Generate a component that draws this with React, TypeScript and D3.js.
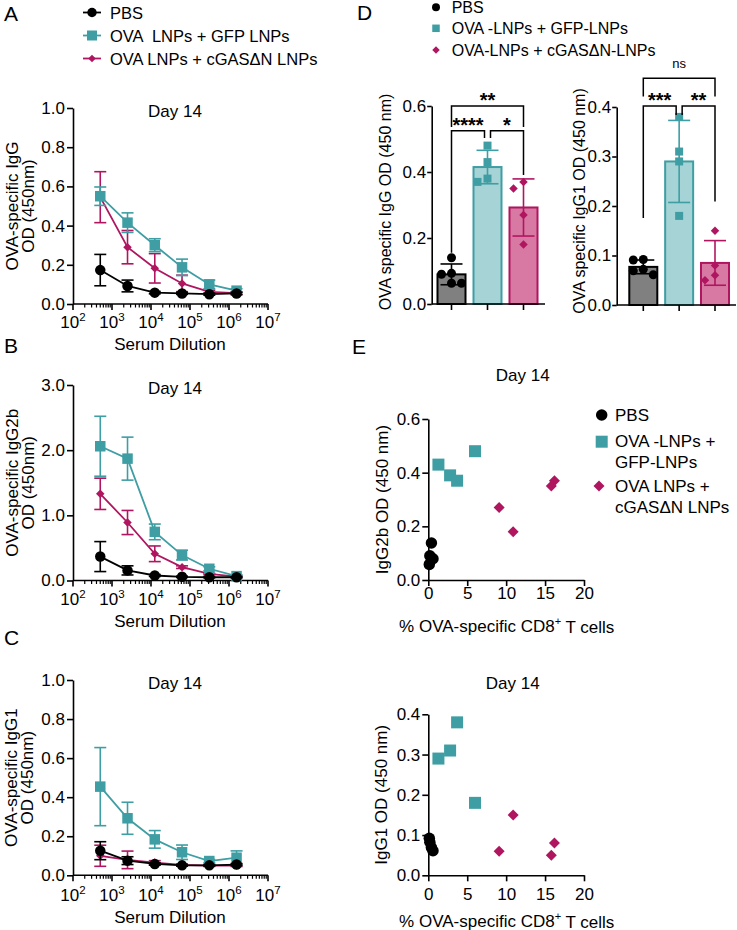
import React, { useEffect, useRef } from 'react'
import * as d3 from 'd3'

const FONT = '"Liberation Sans", Arial, Helvetica, sans-serif'
const TEAL = '#3e9ea3'
const MAGENTA = '#b01660'
const PBS_FILL = '#808080'
const GFP_FILL = '#a6d3d5'
const CGAS_FILL = '#d879a3'

// ---- panels A-C: serum dilution curves (mean, SD) ----
const dilutions = [500, 2500, 12500, 62500, 312500, 1562500]
const curveGroups = ['PBS', 'OVA  LNPs + GFP LNPs', 'OVA LNPs + cGASΔN LNPs']

const iggPBS = [0.173, 0.092, 0.058, 0.054, 0.05, 0.054]
const iggPBSsd = [0.08, 0.03, 0.006, 0.005, 0.005, 0.006]
const iggGFP = [0.55, 0.415, 0.3, 0.187, 0.1, 0.068]
const iggGFPsd = [0.047, 0.05, 0.033, 0.042, 0.022, 0.01]
const iggCGAS = [0.545, 0.29, 0.182, 0.105, 0.062, 0.055]
const iggCGASsd = [0.13, 0.085, 0.075, 0.042, 0.008, 0.006]

const igg2bPBS = [0.367, 0.155, 0.077, 0.057, 0.05, 0.05]
const igg2bPBSsd = [0.23, 0.07, 0.015, 0.01, 0.01, 0.01]
const igg2bGFP = [2.06, 1.87, 0.746, 0.39, 0.18, 0.067]
const igg2bGFPsd = [0.46, 0.33, 0.12, 0.075, 0.03, 0.02]
const igg2bCGAS = [1.33, 0.89, 0.41, 0.205, 0.1, 0.06]
const igg2bCGASsd = [0.24, 0.185, 0.12, 0.02, 0.01, 0.01]

const igg1PBS = [0.126, 0.075, 0.058, 0.051, 0.051, 0.055]
const igg1PBSsd = [0.046, 0.02, 0.006, 0.004, 0.004, 0.005]
const igg1GFP = [0.454, 0.292, 0.184, 0.118, 0.073, 0.09]
const igg1GFPsd = [0.2, 0.082, 0.045, 0.037, 0.008, 0.035]
const igg1CGAS = [0.1, 0.079, 0.065, 0.053, 0.05, 0.05]
const igg1CGASsd = [0.054, 0.045, 0.01, 0.005, 0.005, 0.005]

// ---- panel D: individual mice ----
const barGroups = ['PBS', 'OVA -LNPs + GFP-LNPs', 'OVA-LNPs + cGASΔN-LNPs']
const dIggPBS = [0.14, 0.093, 0.09, 0.063, 0.063]
const dIggGFP = [0.48, 0.43, 0.38, 0.37]
const dIggCGAS = [0.35, 0.37, 0.27, 0.18]
const dIgg1PBS = [0.092, 0.091, 0.072, 0.069, 0.061]
const dIgg1GFP = [0.38, 0.31, 0.29, 0.18]
const dIgg1CGAS = [0.15, 0.08, 0.05, 0.06]

const dIggBrackets = [
  { a: 0, b: 2, label: '**', top: 0.6, legA: 0.536, legB: 0.536 },
  { a: 0, b: 1, label: '****', top: 0.525, legA: 0.155, legB: 0.503 },
  { a: 1, b: 2, label: '*', top: 0.525, legA: 0.503, legB: 0.391 },
]
const dIgg1Brackets = [
  { a: 0, b: 2, label: 'ns', top: 0.458, legA: 0.421, legB: 0.421 },
  { a: 0, b: 1, label: '***', top: 0.402, legA: 0.176, legB: 0.384 },
  { a: 1, b: 2, label: '**', top: 0.402, legA: 0.384, legB: 0.209 },
]

// ---- panel E: OD vs % OVA-specific CD8+ T cells ----
const cd8PBS = [0.13, 0.2, 0.4, 0.6]
const cd8GFP = [1.3, 2.8, 3.7, 6.0]
const cd8CGAS = [9.1, 10.9, 15.8, 16.2]
const eIgg2bPBS = [0.058, 0.09, 0.138, 0.079]
const eIgg2bGFP = [0.43, 0.39, 0.37, 0.48]
const eIgg2bCGAS = [0.27, 0.18, 0.35, 0.37]
const eIgg1PBS = [0.092, 0.082, 0.069, 0.061]
const eIgg1GFP = [0.29, 0.31, 0.38, 0.18]
const eIgg1CGAS = [0.06, 0.15, 0.05, 0.08]
const scatterLegend = [['PBS'], ['OVA -LNPs +', 'GFP-LNPs'], ['OVA LNPs +', 'cGASΔN LNPs']]

const colors = ['#000', TEAL, MAGENTA]
const shapes = ['circle', 'square', 'diamond']

function marker(g, shape, x, y, size, color) {
  if (shape === 'circle') {
    g.append('circle').attr('cx', x).attr('cy', y).attr('r', size / 2).attr('fill', color)
  } else if (shape === 'square') {
    g.append('rect').attr('x', x - size / 2).attr('y', y - size / 2)
      .attr('width', size).attr('height', size).attr('fill', color)
  } else {
    const h = size / 2
    g.append('path').attr('d', `M${x},${y - h}L${x + h},${y}L${x},${y + h}L${x - h},${y}Z`).attr('fill', color)
  }
}

function text(g, x, y, str, size, anchor = 'middle', rotate = false) {
  const t = g.append('text')
    .attr('x', x).attr('y', y)
    .attr('font-size', size)
    .attr('font-family', FONT)
    .attr('text-anchor', anchor)
    .attr('dominant-baseline', 'central')
    .style('white-space', 'pre')
    .text(str)
  if (rotate) t.attr('transform', `rotate(-90,${x},${y})`)
  return t
}

function yAxis(g, y, x, ticks, fmt, size = 6, pad = 2) {
  const ax = g.append('g')
    .attr('transform', `translate(${x},0)`)
    .call(d3.axisLeft(y).tickValues(ticks).tickFormat(fmt).tickSize(size).tickPadding(pad).tickSizeOuter(0))
  ax.attr('font-size', 17).attr('font-family', FONT)
  ax.selectAll('path, line').attr('stroke', '#000').attr('stroke-width', 1.6)
  ax.selectAll('text').attr('fill', '#000')
}

function logXAxis(g, x, y0, labelY) {
  const [d0, d1] = x.domain()
  g.append('line').attr('x1', x(d0)).attr('x2', x(d1)).attr('y1', y0).attr('y2', y0)
    .attr('stroke', '#000').attr('stroke-width', 1.6)
  x.ticks().forEach(t => {
    const e = Math.round(Math.log10(t))
    const major = Math.abs(t - Math.pow(10, e)) < 1e-6 * t
    g.append('line').attr('x1', x(t)).attr('x2', x(t)).attr('y1', y0).attr('y2', y0 + (major ? 6 : 3.5))
      .attr('stroke', '#000').attr('stroke-width', major ? 1.6 : 1.2)
    if (major) {
      const lab = g.append('text').attr('x', x(t)).attr('y', labelY + 6)
        .attr('font-size', 17).attr('font-family', FONT).attr('text-anchor', 'middle')
      lab.append('tspan').text('10')
      lab.append('tspan').attr('dy', -7).attr('font-size', 11.5).text(String(e))
    }
  })
}

function dosePanel(svg, cfg) {
  const g = svg.append('g')
  const x = d3.scaleLog().domain([1e2, 1e7]).range([73, 268])
  const y = d3.scaleLinear().domain([0, cfg.max]).range([cfg.bottom, cfg.top])
  yAxis(g, y, 73, cfg.ticks, d3.format('.1f'))
  logXAxis(g, x, cfg.bottom, cfg.tickLabelY)
  text(g, 170, cfg.tickLabelY + 22, 'Serum Dilution', 17)
  text(g, 175, cfg.top + 3.5, 'Day 14', 17)
  text(g, 12, (cfg.top + cfg.bottom) / 2, cfg.title[0], 17, 'middle', true)
  text(g, 28, (cfg.top + cfg.bottom) / 2, cfg.title[1], 17, 'middle', true)
  text(g, 4, cfg.letterY, cfg.letter, 21, 'start')

  const line = d3.line().x((d, i) => x(dilutions[i])).y(d => y(d))
  // draw cGAS, GFP, then PBS on top
  ;[2, 1, 0].forEach(k => {
    const s = cfg.series[k]
    const sg = g.append('g')
    sg.append('path').attr('d', line(s.values)).attr('fill', 'none')
      .attr('stroke', colors[k]).attr('stroke-width', 1.8)
    s.values.forEach((v, i) => {
      const cx = x(dilutions[i])
      const y1 = y(v + s.sd[i]), y2 = y(Math.max(0, v - s.sd[i]))
      sg.append('line').attr('x1', cx).attr('x2', cx).attr('y1', y1).attr('y2', y2)
        .attr('stroke', colors[k]).attr('stroke-width', 1.6)
      ;[y1, y2].forEach(yy => sg.append('line').attr('x1', cx - 6).attr('x2', cx + 6)
        .attr('y1', yy).attr('y2', yy).attr('stroke', colors[k]).attr('stroke-width', 1.6))
    })
    s.values.forEach((v, i) => marker(sg, shapes[k], x(dilutions[i]), y(v), [10.5, 10.5, 8.5][k], colors[k]))
  })
}

function swarm(values, y, w, minDist) {
  const placed = []
  const offs = new Array(values.length).fill(0)
  d3.range(values.length).sort((i, j) => values[j] - values[i]).forEach(i => {
    const py = y(values[i])
    for (const k of [0, -1, 1, -2, 2]) {
      const px = k * w
      if (placed.every(p => Math.hypot(p[0] - px, p[1] - py) >= minDist)) {
        offs[i] = px
        placed.push([px, py])
        break
      }
    }
  })
  return offs
}

function barPanel(svg, cfg) {
  const g = svg.append('g')
  const x = d3.scalePoint().domain(barGroups).range(cfg.centers)
  const y = d3.scaleLinear().domain([0, cfg.max]).range([cfg.bottom, cfg.top])
  const fills = [PBS_FILL, GFP_FILL, CGAS_FILL]
  const strokes = ['#000', TEAL, MAGENTA]
  const bw = 28

  cfg.points.forEach((pts, k) => {
    const m = d3.mean(pts), sd = d3.deviation(pts)
    const cx = x(barGroups[k])
    g.append('rect').attr('x', cx - bw / 2).attr('y', y(m)).attr('width', bw)
      .attr('height', y(0) - y(m)).attr('fill', fills[k]).attr('stroke', strokes[k]).attr('stroke-width', 2)
    const y1 = y(m + sd), y2 = y(m - sd)
    g.append('line').attr('x1', cx).attr('x2', cx).attr('y1', y1).attr('y2', y2)
      .attr('stroke', strokes[k]).attr('stroke-width', 1.6)
    ;[y1, y2].forEach(yy => g.append('line').attr('x1', cx - 11).attr('x2', cx + 11)
      .attr('y1', yy).attr('y2', yy).attr('stroke', strokes[k]).attr('stroke-width', 1.6))
    const offs = swarm(pts, y, 10, 9)
    pts.forEach((v, i) => marker(g, shapes[k], cx + offs[i], y(v), [9, 8, 8.5][k], strokes[k]))
  })

  yAxis(g, y, cfg.axisX, cfg.ticks, d3.format('.1f'), 4.5, 1)
  g.append('line').attr('x1', cfg.axisX).attr('x2', cfg.axisEnd).attr('y1', cfg.bottom).attr('y2', cfg.bottom)
    .attr('stroke', '#000').attr('stroke-width', 1.6)
  barGroups.forEach(n => g.append('line').attr('x1', x(n)).attr('x2', x(n))
    .attr('y1', cfg.bottom).attr('y2', cfg.bottom + 6).attr('stroke', '#000').attr('stroke-width', 1.6))
  text(g, cfg.titleX, cfg.titleY, cfg.title, 16, 'middle', true)

  const last = barGroups.length - 1
  cfg.brackets.forEach(b => {
    const xa = x(barGroups[b.a]) + (b.a > 0 && b.a < last ? 3 : 0)
    const xb = x(barGroups[b.b]) - (b.b > 0 && b.b < last ? 3 : 0)
    g.append('path')
      .attr('d', `M${xa},${y(b.legA)}V${y(b.top)}H${xb}V${y(b.legB)}`)
      .attr('fill', 'none').attr('stroke', '#000').attr('stroke-width', 1.5)
    const isNs = b.label === 'ns'
    g.append('text').attr('x', (xa + xb) / 2).attr('y', isNs ? y(b.top) - 10 : y(b.top) + 1)
      .attr('font-size', isNs ? 13 : 20).attr('font-weight', isNs ? 'normal' : 'bold')
      .attr('font-family', FONT).attr('text-anchor', 'middle').text(b.label)
  })
}

function scatterPanel(svg, cfg) {
  const g = svg.append('g')
  const x = d3.scaleLinear().domain([0, 20]).range([428.3, 584])
  const y = d3.scaleLinear().domain([0, cfg.max]).range([cfg.bottom, cfg.top])
  yAxis(g, y, 428.3, cfg.ticks, d3.format('.1f'))
  const ax = g.append('g').attr('transform', `translate(0,${cfg.bottom})`)
    .call(d3.axisBottom(x).tickValues([0, 5, 10, 15, 20]).tickSize(6).tickPadding(cfg.tickPad).tickSizeOuter(0))
  ax.attr('font-size', 17).attr('font-family', FONT)
  ax.selectAll('path, line').attr('stroke', '#000').attr('stroke-width', 1.6)
  ax.selectAll('text').attr('fill', '#000')

  const xt = text(g, 506.7, cfg.bottom + 46.5, '% OVA-specific CD8', 17)
  xt.append('tspan').attr('dy', -6).attr('font-size', 11).text('+')
  xt.append('tspan').attr('dy', 6).text(' T cells')
  text(g, 382, (cfg.top + cfg.bottom) / 2, cfg.title, 17, 'middle', true)
  text(g, cfg.dayX, cfg.dayY, 'Day 14', 17)

  const xs = [cd8PBS, cd8GFP, cd8CGAS]
  ;[0, 1, 2].forEach(k => cfg.values[k].forEach((v, i) =>
    marker(g, shapes[k], x(xs[k][i]), y(v), [11.5, 12, 11][k], colors[k])))
}

const App = () => {
  const ref = useRef(null)

  useEffect(() => {
    const svg = d3.select(ref.current)
    svg.selectAll('*').remove()

    // legend for A-C
    const lg = svg.append('g')
    ;[12.5, 35.5, 58.5].forEach((yy, k) => {
      lg.append('line').attr('x1', 83).attr('x2', 101).attr('y1', yy).attr('y2', yy)
        .attr('stroke', colors[k]).attr('stroke-width', 1.8)
      marker(lg, shapes[k], 92, yy, [9.5, 10, 7.5][k], colors[k])
      text(lg, 110, yy, curveGroups[k], 16.5, 'start')
    })

    dosePanel(svg, {
      top: 108, bottom: 304, max: 1, ticks: [0, 0.2, 0.4, 0.6, 0.8, 1.0], tickLabelY: 322,
      title: ['OVA-specific IgG', 'OD (450nm)'], letter: 'A', letterY: 13,
      series: [{ values: iggPBS, sd: iggPBSsd }, { values: iggGFP, sd: iggGFPsd }, { values: iggCGAS, sd: iggCGASsd }],
    })
    dosePanel(svg, {
      top: 385, bottom: 580.5, max: 3, ticks: [0, 1, 2, 3], tickLabelY: 599,
      title: ['OVA-specific IgG2b', 'OD (450nm)'], letter: 'B', letterY: 345,
      series: [{ values: igg2bPBS, sd: igg2bPBSsd }, { values: igg2bGFP, sd: igg2bGFPsd }, { values: igg2bCGAS, sd: igg2bCGASsd }],
    })
    dosePanel(svg, {
      top: 680, bottom: 875.3, max: 1, ticks: [0, 0.2, 0.4, 0.6, 0.8, 1.0], tickLabelY: 895,
      title: ['OVA-specific IgG1', 'OD (450nm)'], letter: 'C', letterY: 637,
      series: [{ values: igg1PBS, sd: igg1PBSsd }, { values: igg1GFP, sd: igg1GFPsd }, { values: igg1CGAS, sd: igg1CGASsd }],
    })

    // panel D
    text(svg, 357, 12, 'D', 21, 'start')
    ;[7.3, 28.3, 50].forEach((yy, k) => {
      marker(svg, shapes[k], 436, yy, [8, 7.5, 7.5][k], colors[k])
      text(svg, 451.7, yy, barGroups[k], 16, 'start')
    })
    barPanel(svg, {
      centers: [451.5, 523.5], axisX: 431.7, axisEnd: 545, top: 106, bottom: 304, max: 0.6,
      ticks: [0, 0.2, 0.4, 0.6], points: [dIggPBS, dIggGFP, dIggCGAS], brackets: dIggBrackets,
      title: 'OVA specific IgG OD (450 nm)', titleX: 385, titleY: 202,
    })
    barPanel(svg, {
      centers: [643.3, 715], axisX: 616.7, axisEnd: 736, top: 107, bottom: 305, max: 0.4,
      ticks: [0, 0.1, 0.2, 0.3, 0.4], points: [dIgg1PBS, dIgg1GFP, dIgg1CGAS], brackets: dIgg1Brackets,
      title: 'OVA specific IgG1 OD (450 nm)', titleX: 579.5, titleY: 201,
    })

    // panel E
    text(svg, 352, 346.7, 'E', 21, 'start')
    scatterPanel(svg, {
      top: 419, bottom: 580, max: 0.6, ticks: [0, 0.2, 0.4, 0.6], tickPad: 1,
      title: 'IgG2b OD (450 nm)', dayX: 522.7, dayY: 375,
      values: [eIgg2bPBS, eIgg2bGFP, eIgg2bCGAS],
    })
    scatterPanel(svg, {
      top: 714.3, bottom: 875.3, max: 0.4, ticks: [0, 0.1, 0.2, 0.3, 0.4], tickPad: 7,
      title: 'IgG1 OD (450 nm)', dayX: 512.7, dayY: 683,
      values: [eIgg1PBS, eIgg1GFP, eIgg1CGAS],
    })
    const el = svg.append('g')
    const rowY = [415, 441.7, 486]
    scatterLegend.forEach((lines, k) => {
      marker(el, shapes[k], k === 2 ? 599 : 601.7, rowY[k], [11.5, 12, 11][k], colors[k])
      lines.forEach((s, j) => text(el, 615, rowY[k] + j * 21, s, 17, 'start'))
    })
  }, [])

  return (
    <svg ref={ref} width={737} height={930}
      style={{ position: 'absolute', left: 0, top: 0, background: '#fff' }} />
  )
}

export default App
